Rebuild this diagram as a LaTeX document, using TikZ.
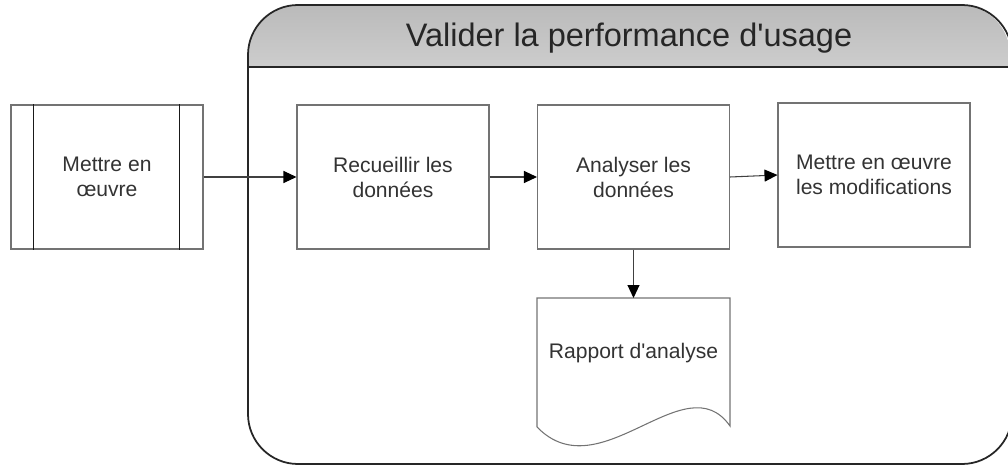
\documentclass[tikz,border=0pt]{standalone}
\usepackage{fontspec}
\setmainfont{Liberation Sans}
\usetikzlibrary{arrows.meta}
\begin{document}
\begin{tikzpicture}[x=0.02cm,y=-0.02cm,line width=0.6pt,
  box/.style={draw=black!55, minimum width=3.84cm, minimum height=2.88cm, align=center,
    text=black!80, font=\fontsize{12}{14.2}\selectfont, inner sep=0pt},
  flow/.style={draw=black!75, -{Triangle[length=0.26cm,width=0.24cm,fill=black,color=black]}}]
\useasboundingbox (0,0) rectangle (1008,466);
\begin{scope}
\clip (248,5) rectangle (1010,67);
\shade[top color=black!27, bottom color=black!4, rounded corners=1cm] (248,5) rectangle (1010,200);
\end{scope}
\draw[line width=1pt, black!85, rounded corners=1cm] (248,5) rectangle (1012,464);
\draw[line width=1pt, black!85] (248,67) -- (1012,67);
\node[font=\fontsize{18.5}{20}\selectfont, text=black!85] (title) at (629,38) {Valider la performance d\textquotesingle usage};
\node[box] (impl) at (107,177) {Mettre en\\œuvre};
\draw[black!90] ([xshift=0.46cm]impl.north west) -- ([xshift=0.46cm]impl.south west);
\draw[black!90] ([xshift=-0.48cm]impl.north east) -- ([xshift=-0.48cm]impl.south east);
\node[box] (collect) at (393,177) {Recueillir les\\données};
\node[box] (analyse) at (633.5,177) {Analyser les\\données};
\node[box] (modify) at (874,175) {Mettre en œuvre\\les modifications};
\draw[black!55] (537,427) -- (537,298) -- (730,298) -- (730,426) .. controls (685,362) and (600,492) .. (537,427);
\coordinate (doctop) at (633.5,298);
\node[text=black!80, font=\fontsize{12}{14.2}\selectfont] (report) at (633.5,353) {Rapport d\textquotesingle analyse};
\draw[flow] (impl) -- (collect);
\draw[flow] (collect) -- (analyse);
\draw[flow] (analyse.east) -- (modify.west);
\draw[flow] (analyse.south) -- (doctop);
\end{tikzpicture}
\end{document}
